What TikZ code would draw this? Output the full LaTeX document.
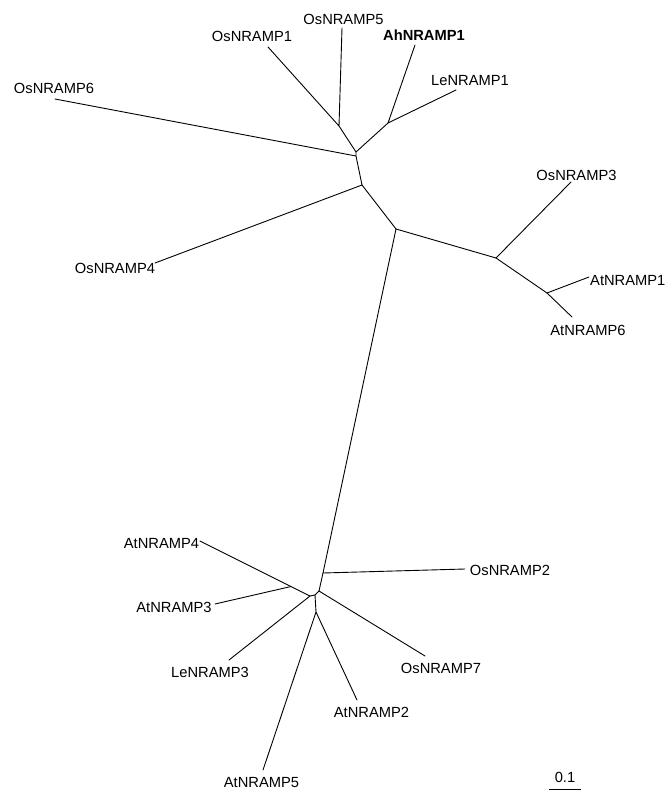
\documentclass[tikz,border=0pt]{standalone}
\usepackage{fontspec}
\setmainfont{Liberation Sans}
\begin{document}
\begin{tikzpicture}[x=1pt,y=-1pt,
  branch/.style={line width=0.9pt, line cap=round, line join=round},
  taxon/.style={inner sep=0pt, font=\fontsize{14.7}{16}\selectfont},
  boldtaxon/.style={taxon, font=\fontsize{14.7}{16}\selectfont\bfseries}]
\useasboundingbox (0,0) rectangle (665,792);
% internal nodes
\coordinate (A) at (339,126);
\coordinate (B) at (356,152);
\coordinate (C) at (388,123);
\coordinate (B2) at (356,156);
\coordinate (D) at (362,185);
\coordinate (E) at (396,229);
\coordinate (F) at (496,258);
\coordinate (G) at (547,293);
\coordinate (H) at (323,573);
\coordinate (I) at (319,591);
\coordinate (J2) at (315,595);
\coordinate (J) at (310,596);
\coordinate (K) at (291,586.5);
\coordinate (L) at (316,612);
% tips
\coordinate (tOs5) at (342,28);
\coordinate (tOs1) at (268,47);
\coordinate (tAh1) at (415,45);
\coordinate (tLe1) at (456,90);
\coordinate (tOs6) at (55,99);
\coordinate (tOs4) at (155,263);
\coordinate (tOs3) at (571,182);
\coordinate (tAt1) at (589,277);
\coordinate (tAt6) at (572,317);
\coordinate (tOs2) at (465,569);
\coordinate (tOs7) at (425,656);
\coordinate (tAt4) at (200,541);
\coordinate (tAt3) at (215,604);
\coordinate (tLe3) at (229,660);
\coordinate (tAt5) at (263,770);
\coordinate (tAt2) at (357,700);
% branches
\draw[branch] (tOs5) -- (A) -- (tOs1);
\draw[branch] (A) -- (B) -- (C);
\draw[branch] (tAh1) -- (C) -- (tLe1);
\draw[branch] (B) -- (B2) -- (tOs6);
\draw[branch] (B2) -- (D) -- (tOs4);
\draw[branch] (D) -- (E) -- (F) -- (tOs3);
\draw[branch] (F) -- (G) -- (tAt1);
\draw[branch] (G) -- (tAt6);
\draw[branch] (E) -- (H) -- (tOs2);
\draw[branch] (H) -- (I) -- (tOs7);
\draw[branch] (I) -- (J2) -- (J) -- (K) -- (tAt4);
\draw[branch] (K) -- (tAt3);
\draw[branch] (J) -- (tLe3);
\draw[branch] (J2) -- (L) -- (tAt5);
\draw[branch] (L) -- (tAt2);
% labels
\node[taxon] (lOs1) at (252,36) {OsNRAMP1};
\node[taxon] (lOs5) at (343.5,19) {OsNRAMP5};
\node[boldtaxon] (lAh1) at (424,35) {AhNRAMP1};
\node[taxon] (lLe1) at (470,81) {LeNRAMP1};
\node[taxon] (lOs6) at (54,88) {OsNRAMP6};
\node[taxon] (lOs4) at (115,268) {OsNRAMP4};
\node[taxon] (lOs3) at (576.5,175) {OsNRAMP3};
\node[taxon, anchor=west] (lAt1) at (590,280) {AtNRAMP1};
\node[taxon] (lAt6) at (588,330.5) {AtNRAMP6};
\node[taxon] (lAt4) at (161.5,543) {AtNRAMP4};
\node[taxon] (lOs2) at (510,570.5) {OsNRAMP2};
\node[taxon] (lAt3) at (174,607) {AtNRAMP3};
\node[taxon] (lLe3) at (210,672.5) {LeNRAMP3};
\node[taxon] (lOs7) at (441,668) {OsNRAMP7};
\node[taxon] (lAt2) at (371.5,712) {AtNRAMP2};
\node[taxon] (lAt5) at (261.5,783) {AtNRAMP5};
% scale bar
\coordinate (s1) at (549,789);
\coordinate (s2) at (581,789);
\draw[line width=0.9pt] (s1) -- (s2);
\node[taxon] (lScale) at (565,777.5) {0.1};
\end{tikzpicture}
\end{document}
